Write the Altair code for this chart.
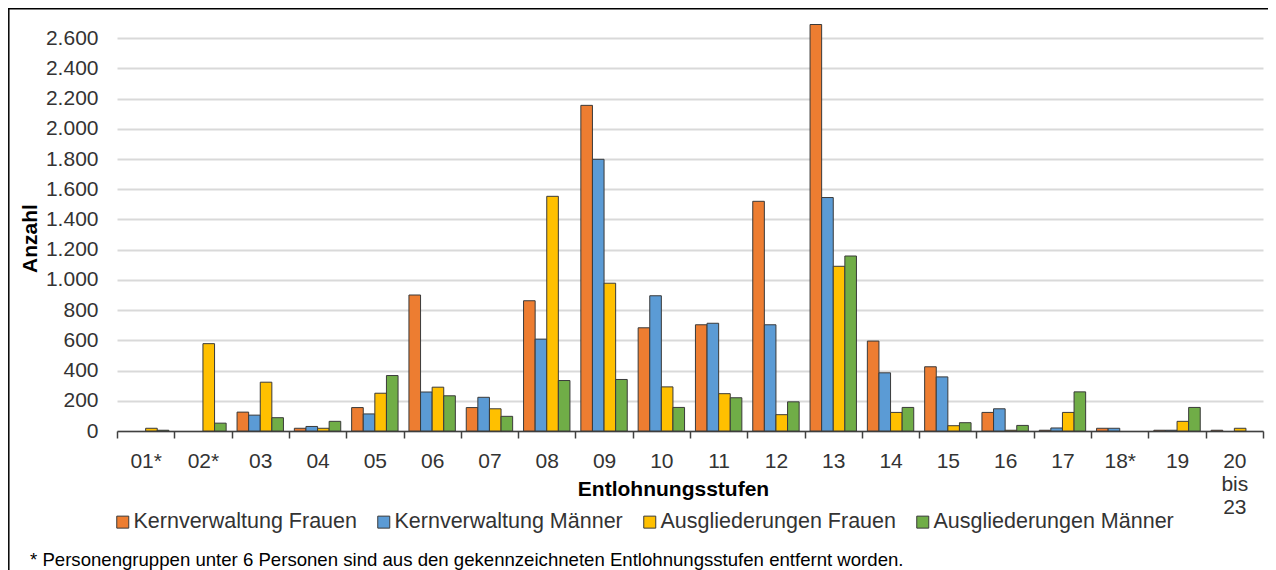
import altair as alt
import pandas as pd

categories = ["01*", "02*", "03", "04", "05", "06", "07", "08", "09", "10",
              "11", "12", "13", "14", "15", "16", "17", "18*", "19", "20 bis 23"]
series = ["Kernverwaltung Frauen", "Kernverwaltung Männer",
          "Ausgliederungen Frauen", "Ausgliederungen Männer"]
colors = ["#ED7D31", "#5B9BD5", "#FFC000", "#70AD47"]

kern_frauen = [None, None, 125, 18, 155, 900, 155, 862, 2155, 683,
               703, 1520, 2690, 595, 425, 123, 5, 18, 5, 5]
kern_maenner = [None, None, 105, 30, 113, 258, 223, 608, 1798, 895,
                713, 703, 1545, 385, 358, 147, 20, 18, 5, None]
ausg_frauen = [18, 578, 323, 18, 250, 290, 147, 1553, 978, 292,
               247, 108, 1090, 123, 35, 5, 123, None, 64, 18]
ausg_maenner = [5, 52, 88, 64, 367, 233, 97, 334, 341, 156,
                220, 193, 1158, 156, 55, 37, 259, None, 156, None]

y_ticks = list(range(0, 2601, 200))
footnote = "* Personengruppen unter 6 Personen sind aus den gekennzeichneten Entlohnungsstufen entfernt worden."

rows = []
for s, vals in zip(series, [kern_frauen, kern_maenner, ausg_frauen, ausg_maenner]):
    for c, v in zip(categories, vals):
        if v is not None:
            rows.append({"stufe": c, "gruppe": s, "anzahl": v})
df = pd.DataFrame(rows)

FONT = "Liberation Sans"

bars = alt.Chart(df).mark_bar(stroke="#3a3a3a", strokeWidth=1).encode(
    x=alt.X("stufe:N", sort=categories,
            scale=alt.Scale(paddingInner=0, paddingOuter=0),
            axis=alt.Axis(title="Entlohnungsstufen", labelAngle=0, tickBand="extent",
                          labelExpr="split(datum.label, ' ')",
                          labelLineHeight=23, labelFontSize=21, labelPadding=12,
                          labelColor="#333333", tickSize=7, tickColor="#404040",
                          domainColor="#404040", domainWidth=1.5, tickWidth=1.5,
                          grid=False, titleFontSize=21, titleFontWeight="bold",
                          titleX=556, titleY=58, titleBaseline="middle",
                          titleColor="#000000")),
    xOffset=alt.XOffset("gruppe:N", sort=series,
                        scale=alt.Scale(paddingInner=0, paddingOuter=0.47)),
    y=alt.Y("anzahl:Q", scale=alt.Scale(domain=[0, 2700], nice=False),
            axis=alt.Axis(title="Anzahl", values=y_ticks,
                          labelExpr="replace(format(datum.value, ','), ',', '.')",
                          labelFontSize=21, labelPadding=19, labelColor="#333333",
                          ticks=False, tickSize=0, domain=False,
                          gridColor="#d9d9d9", gridWidth=2,
                          titleFontSize=21, titleFontWeight="bold",
                          titleColor="#000000", titleAngle=270,
                          titleX=-87, titleY=215, titleBaseline="middle",
                          titleAlign="center")),
    color=alt.Color("gruppe:N", sort=series,
                    scale=alt.Scale(domain=series, range=colors),
                    legend=alt.Legend(title=None, orient="none", direction="horizontal",
                                      legendX=-5, legendY=488,
                                      symbolType="square", symbolSize=144,
                                      symbolStrokeColor="#3a3a3a", symbolStrokeWidth=1,
                                      labelFontSize=21.5, labelColor="#333333",
                                      labelLimit=0, labelOffset=0, columnPadding=16)),
)

deco = pd.DataFrame({"a": [0]})
top_line = alt.Chart(deco).mark_rule(color="#000000", strokeWidth=1.5).encode(
    x=alt.value(-109), x2=alt.value(1160), y=alt.value(-14.2))
left_line = alt.Chart(deco).mark_rule(color="#000000", strokeWidth=1.5).encode(
    x=alt.value(-108.2), y=alt.value(-15), y2=alt.value(560))
note = alt.Chart(deco).mark_text(align="left", baseline="middle", fontSize=18.6,
                                 font=FONT, color="#000000").encode(
    x=alt.value(-87), y=alt.value(537), text=alt.value(footnote))

chart = alt.layer(bars, top_line, left_line, note).properties(
    width=1146, height=408,
    autosize=alt.AutoSizeParams(type="none"),
    padding={"left": 109, "top": 15, "right": 5, "bottom": 139},
).configure(font=FONT).configure_view(stroke=None)

chart.save("out.html", embed_options={"renderer": "svg", "actions": False})
